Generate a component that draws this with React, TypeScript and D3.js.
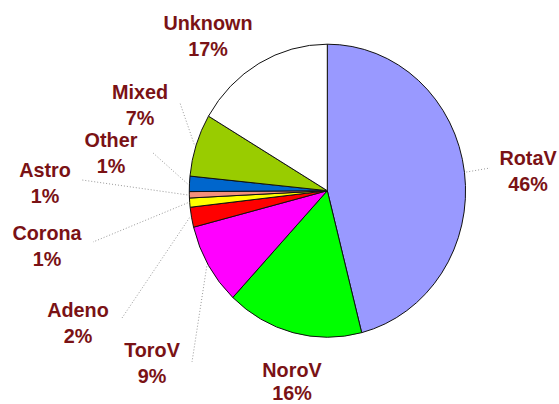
import React from "react";
import * as d3 from "d3";

const categories = ["RotaV", "NoroV", "ToroV", "Adeno", "Corona", "Astro", "Other", "Mixed", "Unknown"];
const values = [46, 16, 9, 2.2, 1, 0.7, 1.7, 6.9, 16.5];
const percentLabels = ["46%", "16%", "9%", "2%", "1%", "1%", "1%", "7%", "17%"];
const colors = ["#9999ff", "#00ff00", "#ff00ff", "#ff0000", "#ffff00", "#f4907c", "#0066cc", "#99cc00", "#ffffff"];

// label layout: text center x, first baseline, second baseline, leader outer end (or null)
const labelLayout: { x: number; y1: number; y2: number; lx?: number; ly?: number }[] = [
  { x: 528, y1: 165, y2: 191, lx: 490, ly: 168 },
  { x: 292, y1: 377, y2: 400 },
  { x: 152, y1: 357, y2: 383, lx: 192, ly: 362 },
  { x: 78, y1: 317, y2: 343, lx: 122, ly: 318 },
  { x: 47, y1: 240, y2: 266, lx: 93, ly: 242 },
  { x: 45, y1: 177, y2: 203, lx: 82, ly: 180 },
  { x: 111, y1: 147, y2: 173, lx: 152, ly: 152 },
  { x: 140, y1: 99, y2: 125, lx: 180, ly: 103 },
  { x: 208, y1: 30, y2: 56 },
];

const W = 559;
const H = 404;
const cx = 327.3;
const cy = 190.7;
const rx = 138;
const ry = 146.5;

export default function App() {
  const pie = d3.pie<number>().sort(null).value((d) => d);
  const arcs = pie(values);
  const arc = d3.arc<d3.PieArcDatum<number>>().innerRadius(0).outerRadius(1);
  const textColor = "#7a1215";

  return (
    <svg
      width={W}
      height={H}
      style={{ position: "absolute", left: 0, top: 0, background: "#fff" }}
      fontFamily="'Liberation Sans', Arial, sans-serif"
    >
      <rect width={W} height={H} fill="#fff" />
      {arcs.map((a, i) => {
        const L = labelLayout[i];
        if (L.lx === undefined) return null;
        const mid = (a.startAngle + a.endAngle) / 2;
        const px = cx + rx * 1.015 * Math.sin(mid);
        const py = cy - ry * 1.015 * Math.cos(mid);
        return (
          <line
            key={"l" + i}
            x1={px}
            y1={py}
            x2={L.lx}
            y2={L.ly}
            stroke="#999"
            strokeWidth={1}
            strokeDasharray="1,2"
          />
        );
      })}
      <g transform={`translate(${cx},${cy}) scale(${rx},${ry})`}>
        {arcs.map((a, i) => (
          <path
            key={i}
            d={arc(a) || ""}
            fill={colors[i]}
            stroke="#111"
            strokeWidth={1}
            vectorEffect="non-scaling-stroke"
          />
        ))}
      </g>
      {categories.map((c, i) => {
        const L = labelLayout[i];
        return (
          <g key={"t" + i} fill={textColor} fontWeight="bold" fontSize={19.8} textAnchor="middle">
            <text x={L.x} y={L.y1}>{c}</text>
            <text x={L.x} y={L.y2}>{percentLabels[i]}</text>
          </g>
        );
      })}
    </svg>
  );
}
